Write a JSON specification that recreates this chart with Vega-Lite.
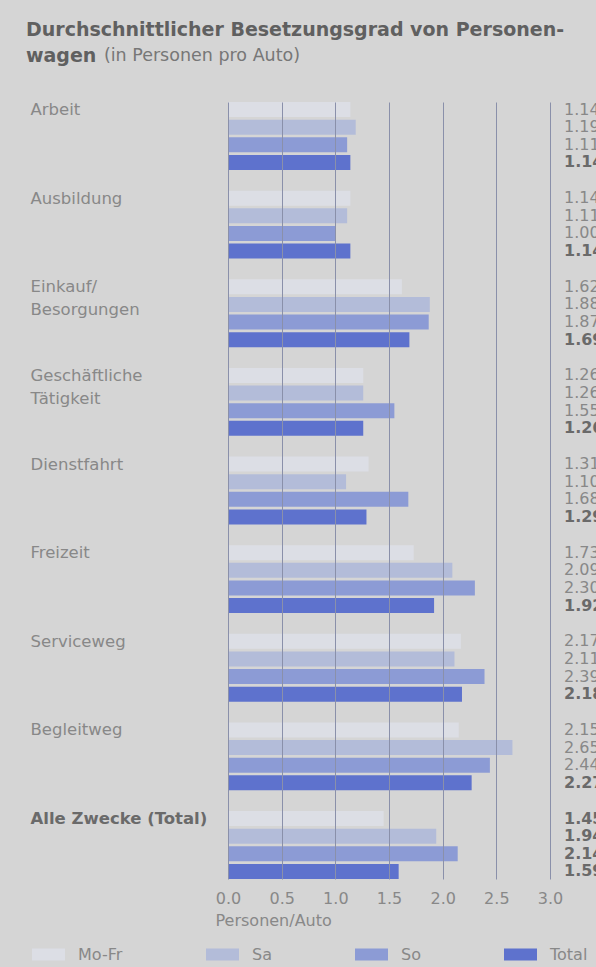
{
  "$schema": "https://vega.github.io/schema/vega-lite/v6.json",
  "width": 322,
  "height": 777,
  "autosize": {"type": "none"},
  "padding": {"left": 228, "top": 102, "right": 46, "bottom": 88},
  "background": "#d5d5d5",
  "config": {
    "font": "DejaVu Sans",
    "view": {"stroke": null},
    "axis": {"labelFont": "DejaVu Sans", "titleFont": "DejaVu Sans"},
    "legend": {"labelFont": "DejaVu Sans"}
  },
  "title": {
    "text": ["Durchschnittlicher Besetzungsgrad von Personen-", "wagen"],
    "subtitle": "\u200b\u00a0\u00a0\u00a0\u00a0\u00a0\u00a0\u00a0\u00a0\u00a0\u00a0\u00a0\u00a0\u00a0\u00a0(in Personen pro Auto)",
    "anchor": "start",
    "frame": "group",
    "dx": -202,
    "offset": 35,
    "font": "DejaVu Sans",
    "fontSize": 19,
    "fontWeight": "bold",
    "color": "#606060",
    "lineHeight": 26,
    "subtitleFont": "DejaVu Sans",
    "subtitleFontSize": 17.5,
    "subtitleFontWeight": "normal",
    "subtitleColor": "#777777",
    "subtitlePadding": -19
  },
  "data": {
    "values": [
      {"zweck": "Arbeit", "tag": "Mo-Fr", "wert": 1.14},
      {"zweck": "Arbeit", "tag": "Sa", "wert": 1.19},
      {"zweck": "Arbeit", "tag": "So", "wert": 1.11},
      {"zweck": "Arbeit", "tag": "Total", "wert": 1.14},
      {"zweck": "Ausbildung", "tag": "Mo-Fr", "wert": 1.14},
      {"zweck": "Ausbildung", "tag": "Sa", "wert": 1.11},
      {"zweck": "Ausbildung", "tag": "So", "wert": 1.00},
      {"zweck": "Ausbildung", "tag": "Total", "wert": 1.14},
      {"zweck": "Einkauf/ Besorgungen", "tag": "Mo-Fr", "wert": 1.62},
      {"zweck": "Einkauf/ Besorgungen", "tag": "Sa", "wert": 1.88},
      {"zweck": "Einkauf/ Besorgungen", "tag": "So", "wert": 1.87},
      {"zweck": "Einkauf/ Besorgungen", "tag": "Total", "wert": 1.69},
      {"zweck": "Geschäftliche Tätigkeit", "tag": "Mo-Fr", "wert": 1.26},
      {"zweck": "Geschäftliche Tätigkeit", "tag": "Sa", "wert": 1.26},
      {"zweck": "Geschäftliche Tätigkeit", "tag": "So", "wert": 1.55},
      {"zweck": "Geschäftliche Tätigkeit", "tag": "Total", "wert": 1.26},
      {"zweck": "Dienstfahrt", "tag": "Mo-Fr", "wert": 1.31},
      {"zweck": "Dienstfahrt", "tag": "Sa", "wert": 1.10},
      {"zweck": "Dienstfahrt", "tag": "So", "wert": 1.68},
      {"zweck": "Dienstfahrt", "tag": "Total", "wert": 1.29},
      {"zweck": "Freizeit", "tag": "Mo-Fr", "wert": 1.73},
      {"zweck": "Freizeit", "tag": "Sa", "wert": 2.09},
      {"zweck": "Freizeit", "tag": "So", "wert": 2.30},
      {"zweck": "Freizeit", "tag": "Total", "wert": 1.92},
      {"zweck": "Serviceweg", "tag": "Mo-Fr", "wert": 2.17},
      {"zweck": "Serviceweg", "tag": "Sa", "wert": 2.11},
      {"zweck": "Serviceweg", "tag": "So", "wert": 2.39},
      {"zweck": "Serviceweg", "tag": "Total", "wert": 2.18},
      {"zweck": "Begleitweg", "tag": "Mo-Fr", "wert": 2.15},
      {"zweck": "Begleitweg", "tag": "Sa", "wert": 2.65},
      {"zweck": "Begleitweg", "tag": "So", "wert": 2.44},
      {"zweck": "Begleitweg", "tag": "Total", "wert": 2.27},
      {"zweck": "Alle Zwecke (Total)", "tag": "Mo-Fr", "wert": 1.45},
      {"zweck": "Alle Zwecke (Total)", "tag": "Sa", "wert": 1.94},
      {"zweck": "Alle Zwecke (Total)", "tag": "So", "wert": 2.14},
      {"zweck": "Alle Zwecke (Total)", "tag": "Total", "wert": 1.59}
    ]
  },
  "encoding": {
    "y": {
      "field": "zweck",
      "type": "nominal",
      "sort": ["Arbeit", "Ausbildung", "Einkauf/ Besorgungen", "Geschäftliche Tätigkeit", "Dienstfahrt", "Freizeit", "Serviceweg", "Begleitweg", "Alle Zwecke (Total)"],
      "scale": {"paddingInner": 0.233, "paddingOuter": 0},
      "axis": {
        "title": null,
        "domain": false,
        "ticks": false,
        "labelAlign": "left",
        "labelBaseline": "top",
        "labelOffset": -34,
        "labelPadding": 198,
        "labelFontSize": 16.5,
        "labelLineHeight": 23,
        "labelLimit": 0,
        "labelExpr": "datum.value == 'Einkauf/ Besorgungen' ? ['Einkauf/', 'Besorgungen'] : datum.value == 'Geschäftliche Tätigkeit' ? ['Geschäftliche', 'Tätigkeit'] : datum.value",
        "labelFontWeight": {"condition": {"test": "datum.value == 'Alle Zwecke (Total)'", "value": "bold"}, "value": "normal"},
        "labelColor": {"condition": {"test": "datum.value == 'Alle Zwecke (Total)'", "value": "#6a6a6a"}, "value": "#888888"}
      }
    },
    "yOffset": {
      "field": "tag",
      "type": "nominal",
      "sort": ["Mo-Fr", "Sa", "So", "Total"],
      "scale": {"paddingInner": 0.15, "paddingOuter": 0}
    }
  },
  "layer": [
    {
      "mark": {"type": "bar"},
      "encoding": {
        "x": {
          "field": "wert",
          "type": "quantitative",
          "scale": {"domain": [0, 3], "nice": false},
          "axis": {
            "values": [0, 0.5, 1, 1.5, 2, 2.5, 3],
            "format": ".1f",
            "domain": false,
            "ticks": false,
            "grid": true,
            "gridColor": "#8a90aa",
            "gridWidth": 1,
            "zindex": 1,
            "labelFlush": false,
            "labelFontSize": 16,
            "labelColor": "#888888",
            "labelPadding": 11,
            "title": "Personen/Auto",
            "titleFontSize": 16,
            "titleFontWeight": "normal",
            "titleColor": "#888888",
            "titleAnchor": "start",
            "titleAlign": "left",
            "titleBaseline": "top",
            "titleX": -13,
            "titleY": 33
          }
        },
        "color": {
          "field": "tag",
          "type": "nominal",
          "scale": {"domain": ["Mo-Fr", "Sa", "So", "Total"], "range": ["#dcdee5", "#b3bcd9", "#8c9bd5", "#5e72cd"]},
          "legend": {
            "title": null,
            "orient": "none",
            "legendX": -196,
            "legendY": 836,
            "direction": "horizontal",
            "columns": 4,
            "gridAlign": "none",
            "columnPadding": 83,
            "padding": 0,
            "symbolType": "M-1,-0.36H1V0.36H-1Z",
            "symbolSize": 1089,
            "symbolStrokeWidth": 0,
            "symbolOpacity": 1,
            "labelOffset": 13,
            "labelFontSize": 16,
            "labelColor": {"condition": {"test": "datum.value == 'Total'", "value": "#666666"}, "value": "#888888"},
            "labelFontWeight": {"condition": {"test": "datum.value == 'Total'", "value": "bold"}, "value": "normal"}
          }
        }
      }
    },
    {
      "transform": [{"filter": "datum.tag != 'Total' && datum.zweck != 'Alle Zwecke (Total)'"}],
      "mark": {"type": "text", "align": "left", "baseline": "middle", "dx": 14, "fontSize": 16, "color": "#888888"},
      "encoding": {
        "x": {"datum": 3},
        "text": {"field": "wert", "type": "quantitative", "format": ".2f"}
      }
    },
    {
      "transform": [{"filter": "datum.tag == 'Total' || datum.zweck == 'Alle Zwecke (Total)'"}],
      "mark": {"type": "text", "align": "left", "baseline": "middle", "dx": 14, "fontSize": 16, "fontWeight": "bold", "color": "#6a6a6a"},
      "encoding": {
        "x": {"datum": 3},
        "text": {"field": "wert", "type": "quantitative", "format": ".2f"}
      }
    }
  ]
}
